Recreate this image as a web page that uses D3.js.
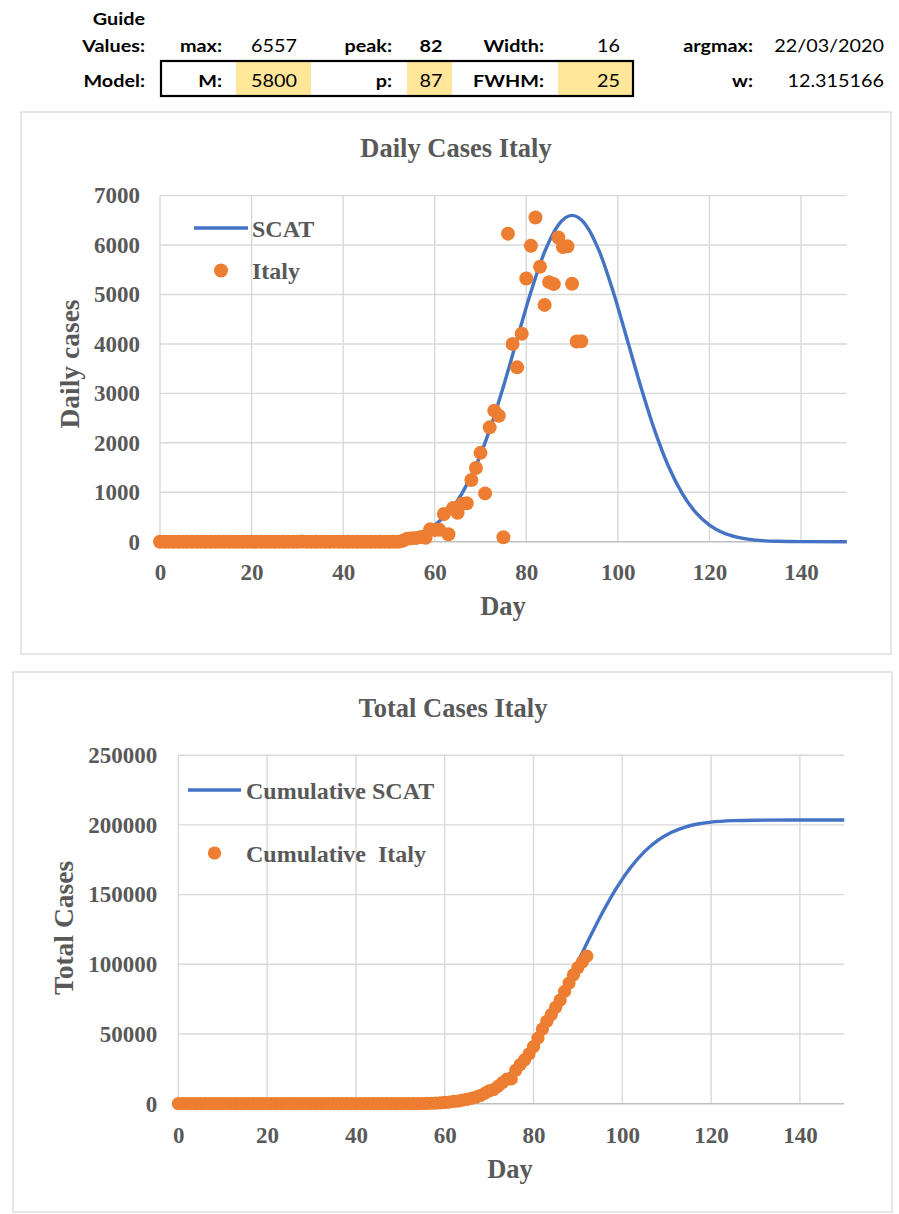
<!DOCTYPE html>
<html>
<head>
<meta charset="utf-8">
<script src="https://cdn.jsdelivr.net/npm/d3@7"></script>
<style>
  html, body { margin: 0; padding: 0; background: #ffffff; }
  svg { display: block; }
  .serif { font-family: "Liberation Serif", "Times New Roman", serif; font-weight: bold; fill: #595959; }
  .hdr { font-family: Lato, "Open Sans", sans-serif; font-size: 16.5px; fill: #000; }
  .hdr.b { font-weight: bold; }
</style>
</head>
<body>
<svg id="chart" width="899" height="1214"></svg>
<script>
// ---- Guide / model parameter table ----
const guideRow = [
  { label: "max:", value: "6557", bold: false },
  { label: "peak:", value: "82", bold: true },
  { label: "Width:", value: "16", bold: false },
  { label: "argmax:", value: "22/03/2020", bold: false }
];
const modelRow = [
  { label: "M:", value: "5800" },
  { label: "p:", value: "87" },
  { label: "FWHM:", value: "25" },
  { label: "w:", value: "12.315166" }
];

// ---- Italy daily new cases, day 0 = 31/12/2019 ----
const dailyCases = [
  0,0,0,0,0,0,0,0,0,0, 0,0,0,0,0,0,0,0,0,0, 0,0,0,0,0,0,0,0,0,0,
  0,2,0,0,0,0,0,0,1,0, 0,0,0,0,0,0,0,0,0,0, 0,0,0,
  17,59,71,77,93,78,250,238,240,561,
  150,680,587,769,778,1247,1492,1797,977,2313,
  2651,2547,90,6230,4000,3526,4207,5322,5986,6557,
  5560,4789,5249,5210,6153,5959,5974,5217,4050,4053
];
const days = d3.range(dailyCases.length);
const cumulativeCases = Array.from(d3.cumsum(dailyCases));

// ---- SCAT model curve, daily ----
const scatDays   = [0, 40, 45, 50, 54, 57, 60, 63, 66, 69, 72, 75, 78, 81, 84, 87, 90,
                    93, 96, 99, 102, 105, 108, 111, 114, 117, 120, 123, 126, 130, 135, 140, 150];
const scatValues = [0, 2, 8, 33, 91, 180, 337, 593, 984, 1536, 2262, 3140, 4100, 5050, 5860, 6407, 6600,
                    6407, 5860, 5050, 4100, 3140, 2262, 1536, 984, 593, 337, 180, 91, 33, 8, 2, 0];

// ---- SCAT model curve, cumulative ----
const cumScatDays   = [0, 40, 50, 55, 60, 63, 66, 69, 72, 75, 78, 81, 84, 87, 90, 93, 96, 99,
                       102, 105, 108, 111, 114, 117, 120, 125, 130, 140, 150];
const cumScatValues = [0, 5, 117, 450, 1498, 2866, 5196, 8936, 14600, 22650, 33500, 47250, 63660, 82150,
                       101750, 121350, 139850, 156250, 170000, 180850, 188900, 194570, 198300, 200630,
                       202000, 203050, 203380, 203500, 203500];

// ---- Tick values ----
const dayTicks = [0, 20, 40, 60, 80, 100, 120, 140];
const dailyTicks = [0, 1000, 2000, 3000, 4000, 5000, 6000, 7000];
const totalTicks = [0, 50000, 100000, 150000, 200000, 250000];

const BLUE = "#4472C4", ORANGE = "#ED7D31", GRID = "#d9d9d9", AXIS = "#bfbfbf";

const svg = d3.select("#chart");

// ================= header table =================
const hdr = svg.append("g");
const SX = 1.2;
function htext(x, y, str, anchor, bold) {
  hdr.append("text")
    .attr("class", "hdr" + (bold ? " b" : ""))
    .attr("transform", `translate(${x},${y}) scale(${SX},1)`)
    .attr("text-anchor", anchor)
    .text(str);
}
// yellow input cells and box
const cells = [[236, 311], [407, 452], [558, 632]];
cells.forEach(([a, b]) => hdr.append("rect").attr("x", a).attr("y", 61).attr("width", b - a).attr("height", 35).attr("fill", "#FFE699"));
hdr.append("rect").attr("x", 161).attr("y", 61).attr("width", 472).attr("height", 35)
  .attr("fill", "none").attr("stroke", "#000").attr("stroke-width", 2.2);

htext(145, 25, "Guide", "end", true);
htext(145, 52, "Values:", "end", true);
htext(145, 87, "Model:", "end", true);

const labelX = [222, 392, 544, 753];
const valueX = [274, 431, 620, 884];
const valueAnchor = ["middle", "middle", "end", "end"];
guideRow.forEach((d, i) => {
  htext(labelX[i], 52, d.label, "end", true);
  htext(valueX[i], 52, d.value, valueAnchor[i], d.bold);
});
modelRow.forEach((d, i) => {
  htext(labelX[i], 87, d.label, "end", true);
  htext(valueX[i], 87, d.value, valueAnchor[i], false);
});

// ================= chart builder =================
function drawChart(cfg) {
  const g = svg.append("g");
  g.append("rect").attr("x", cfg.frame[0]).attr("y", cfg.frame[1])
    .attr("width", cfg.frame[2] - cfg.frame[0]).attr("height", cfg.frame[3] - cfg.frame[1])
    .attr("fill", "#fff").attr("stroke", GRID).attr("stroke-width", 1.3);

  const x = d3.scaleLinear().domain([0, 150]).range(cfg.xRange);
  const y = d3.scaleLinear().domain(cfg.yDomain).range(cfg.yRange);

  // gridlines
  g.append("g").selectAll("line.h").data(cfg.yTicks.filter(v => v > 0)).join("line")
    .attr("x1", x(0)).attr("x2", x(150)).attr("y1", d => y(d)).attr("y2", d => y(d))
    .attr("stroke", GRID).attr("stroke-width", 1.4);
  g.append("g").selectAll("line.v").data(dayTicks).join("line")
    .attr("x1", d => x(d)).attr("x2", d => x(d)).attr("y1", y(cfg.yDomain[1])).attr("y2", y(0))
    .attr("stroke", GRID).attr("stroke-width", 1.4);
  g.append("line").attr("x1", x(0)).attr("x2", x(150)).attr("y1", y(0)).attr("y2", y(0))
    .attr("stroke", AXIS).attr("stroke-width", 1.6);

  // axes (labels only)
  const xa = g.append("g").attr("transform", `translate(0,${y(0)})`)
    .call(d3.axisBottom(x).tickValues(dayTicks).tickSize(0).tickPadding(cfg.xPad));
  const ya = g.append("g").attr("transform", `translate(${x(0)},0)`)
    .call(d3.axisLeft(y).tickValues(cfg.yTicks).tickFormat(d3.format("d")).tickSize(0).tickPadding(cfg.yPad));
  [xa, ya].forEach(a => {
    a.select(".domain").remove();
    a.selectAll("text").attr("class", "serif").attr("font-size", 23).attr("font-family", null);
  });

  // titles
  g.append("text").attr("class", "serif").attr("font-size", 26.5).attr("text-anchor", "middle")
    .attr("x", cfg.title[1]).attr("y", cfg.title[2]).text(cfg.title[0]);
  g.append("text").attr("class", "serif").attr("font-size", 26.5).attr("text-anchor", "middle")
    .attr("x", cfg.xTitle[0]).attr("y", cfg.xTitle[1]).text("Day");
  g.append("text").attr("class", "serif").attr("font-size", 27.5).attr("text-anchor", "middle")
    .attr("transform", `translate(${cfg.yTitle[1]},${cfg.yTitle[2]}) rotate(-90)`).text(cfg.yTitle[0]);

  // model line
  const line = d3.line().x((d, i) => x(cfg.lineX[i])).y(d => y(d)).curve(d3.curveMonotoneX);
  g.append("path").datum(cfg.lineY).attr("d", line)
    .attr("fill", "none").attr("stroke", BLUE).attr("stroke-width", 3.4);

  // data points
  g.append("g").selectAll("circle").data(cfg.points).join("circle")
    .attr("cx", (d, i) => x(days[i])).attr("cy", d => y(d)).attr("r", cfg.r).attr("fill", ORANGE);

  // legend
  const L = cfg.legend;
  g.append("line").attr("x1", L.x1).attr("x2", L.x2).attr("y1", L.y1).attr("y2", L.y1)
    .attr("stroke", BLUE).attr("stroke-width", 3.4);
  g.append("text").attr("class", "serif").attr("font-size", 24).attr("x", L.tx).attr("y", L.y1 + 8.5).text(L.t1);
  g.append("circle").attr("cx", (L.x1 + L.x2) / 2).attr("cy", L.y2).attr("r", cfg.r).attr("fill", ORANGE);
  g.append("text").attr("class", "serif").attr("font-size", 24).attr("x", L.tx2).attr("y", L.y2 + 8.5)
    .attr("xml:space", "preserve").style("white-space", "pre").text(L.t2);
}

drawChart({
  frame: [21, 112, 891, 654],
  xRange: [160, 846.8],
  yDomain: [0, 7000], yRange: [541.7, 195.6],
  yTicks: dailyTicks, xPad: 22, yPad: 20,
  title: ["Daily Cases Italy", 456, 157],
  xTitle: [503, 615], yTitle: ["Daily cases", 79, 364],
  lineX: scatDays, lineY: scatValues,
  points: dailyCases, r: 7,
  legend: { x1: 194, x2: 248, y1: 228, y2: 270.5, tx: 252, tx2: 252, t1: "SCAT", t2: "Italy" }
});

drawChart({
  frame: [13, 672, 892, 1212],
  xRange: [178.3, 844.3],
  yDomain: [0, 250000], yRange: [1103.7, 755.2],
  yTicks: totalTicks, xPad: 23, yPad: 21,
  title: ["Total Cases Italy", 453, 717],
  xTitle: [510, 1178], yTitle: ["Total Cases", 73, 928],
  lineX: cumScatDays, lineY: cumScatValues,
  points: cumulativeCases, r: 6.6,
  legend: { x1: 188, x2: 241, y1: 790, y2: 853, tx: 246, tx2: 246, t1: "Cumulative SCAT", t2: "Cumulative  Italy" }
});
</script>
</body>
</html>
